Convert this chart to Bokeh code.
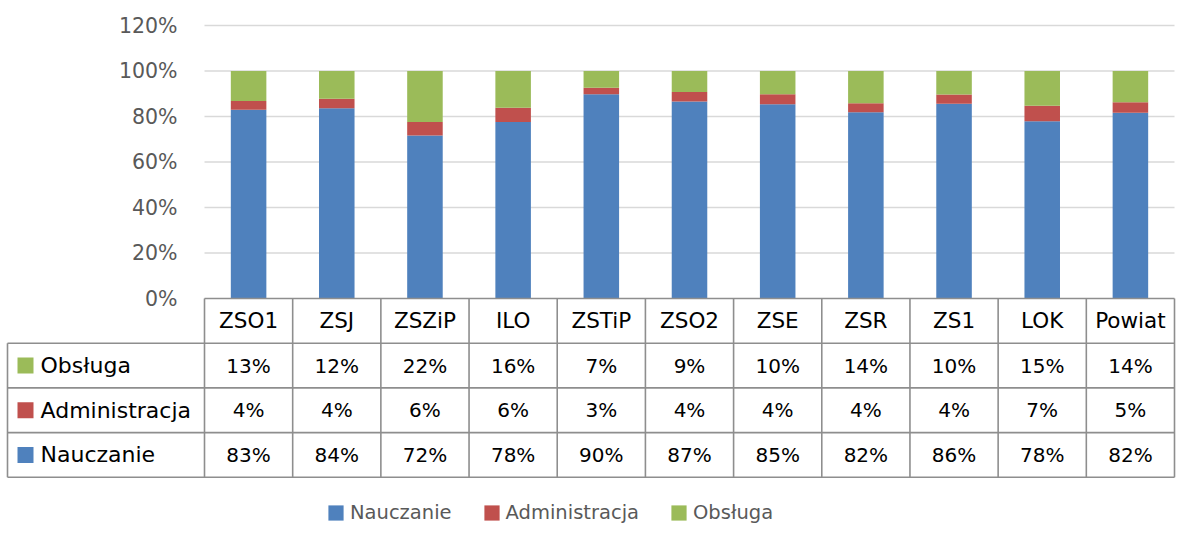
from bokeh.plotting import figure
from bokeh.models import Range1d, ColumnDataSource, Legend, LegendItem
from bokeh.core.properties import value
from bokeh.embed import file_html
from bokeh.resources import INLINE

# ---------------- data ----------------
categories = ["ZSO1", "ZSJ", "ZSZiP", "ILO", "ZSTiP", "ZSO2", "ZSE", "ZSR", "ZS1", "LOK", "Powiat"]
nauczanie = [83.0, 83.6, 71.7, 77.6, 89.8, 86.6, 85.4, 81.9, 85.6, 77.9, 81.6]
administracja = [3.8, 4.2, 5.9, 6.3, 2.8, 4.2, 4.4, 3.9, 4.1, 6.8, 4.7]
obsluga = [13.2, 12.2, 22.4, 16.1, 7.4, 9.2, 10.2, 14.2, 10.3, 15.3, 13.7]
series_names = ["Nauczanie", "Administracja", "Obsługa"]
y_ticks = [0, 20, 40, 60, 80, 100, 120]

# ---------------- styles / layout ----------------
colors = {"Nauczanie": "#4F81BD", "Administracja": "#C0504D", "Obsługa": "#9BBB59"}
FONT = "DejaVu Sans"
W, H = 1176, 524
LEFT_COL = 204      # px: left edge of plot area / table category columns
TABLE_LEFT = 7      # px: left edge of the data table
TABLE_RIGHT = 1174  # px: right edge of table / plot area
Y0 = 298            # px from top of the 0% line
Y120 = 25           # px from top of the 120% line
ROW_H = 44.7        # px height of a table row
BAR_W = 0.403       # fraction of category width
TICK_RIGHT = 177    # px right edge of y tick labels
KEY_X = 25          # px centre of key squares in the table
LABEL_X = 40        # px start of row labels

n = len(categories)
cat_w = (TABLE_RIGHT - LEFT_COL) / n
ppu = (Y0 - Y120) / 120.0


def xd(px):
    """screen px (from left) -> data x"""
    return (px - LEFT_COL) / cat_w


row_u = ROW_H / ppu

p = figure(width=W, height=H,
           x_range=Range1d(xd(0), xd(W)),
           y_range=Range1d(-(H - Y0) / ppu, Y0 / ppu),
           output_backend="svg", toolbar_location=None,
           x_axis_location=None, y_axis_location=None,
           min_border=0, min_border_left=0, min_border_right=0,
           min_border_top=0, min_border_bottom=0,
           outline_line_color=None)
p.grid.grid_line_color = None

# gridlines
grid_y = y_ticks[1:]
p.segment(x0=[0] * len(grid_y), x1=[n] * len(grid_y), y0=grid_y, y1=grid_y,
          line_color="#d9d9d9", line_width=1.5)

# y tick labels
p.text(x=[xd(TICK_RIGHT)] * len(y_ticks), y=y_ticks, text=[f"{t}%" for t in y_ticks],
       text_align="right", text_baseline="middle", text_font=value(FONT),
       text_font_size="20.5px", text_color="#595959")

# stacked bars
xs = [i + 0.5 for i in range(n)]
vals = {"Nauczanie": nauczanie, "Administracja": administracja, "Obsługa": obsluga}
bottom = [0.0] * n
renderers = {}
for name in series_names:
    top = [b + v for b, v in zip(bottom, vals[name])]
    src = ColumnDataSource(dict(x=xs, bottom=bottom, top=top))
    renderers[name] = p.vbar(x="x", bottom="bottom", top="top", width=BAR_W, source=src,
                             fill_color=colors[name], line_color=None)
    bottom = top

# data table lines
TL = "#8e8e8e"
LW = 1.6
x_left = xd(TABLE_LEFT)
hy = [-k * row_u for k in range(5)]
p.segment(x0=[0], x1=[n], y0=[hy[0]], y1=[hy[0]], line_color=TL, line_width=LW)
p.segment(x0=[x_left] * 4, x1=[n] * 4, y0=hy[1:], y1=hy[1:], line_color=TL, line_width=LW)
p.segment(x0=[x_left], x1=[x_left], y0=[hy[1]], y1=[hy[4]], line_color=TL, line_width=LW)
p.segment(x0=list(range(n + 1)), x1=list(range(n + 1)), y0=[hy[0]] * (n + 1), y1=[hy[4]] * (n + 1),
          line_color=TL, line_width=LW)

# header
p.text(x=xs, y=[-0.5 * row_u] * n, text=categories, text_align="center", text_baseline="middle",
       text_font=value(FONT), text_font_size="21.5px", text_color="#000000")

# rows
row_order = ["Obsługa", "Administracja", "Nauczanie"]
for r, name in enumerate(row_order):
    yc = -(r + 1.5) * row_u
    p.text(x=xs, y=[yc] * n, text=[f"{round(v)}%" for v in vals[name]],
           text_align="center", text_baseline="middle", text_font=value(FONT),
           text_font_size="20px", text_color="#000000")
    p.rect(x=[xd(KEY_X)], y=[yc], width=16, height=16, width_units="screen", height_units="screen",
           fill_color=colors[name], line_color=None)
    p.text(x=[xd(LABEL_X)], y=[yc], text=[name], text_align="left", text_baseline="middle",
           text_font=value(FONT), text_font_size="22px", text_color="#000000")

# bottom legend
legend = Legend(items=[LegendItem(label=nm, renderers=[renderers[nm]]) for nm in series_names],
                orientation="horizontal", location=(326, 0),
                glyph_width=19, glyph_height=19, label_height=19, label_standoff=5, spacing=30,
                padding=0, margin=0, border_line_color=None, background_fill_alpha=0,
                label_text_font=FONT, label_text_font_size="19.5px", label_text_color="#595959")
p.add_layout(legend)

open("out.html", "w").write(file_html(p, INLINE))
